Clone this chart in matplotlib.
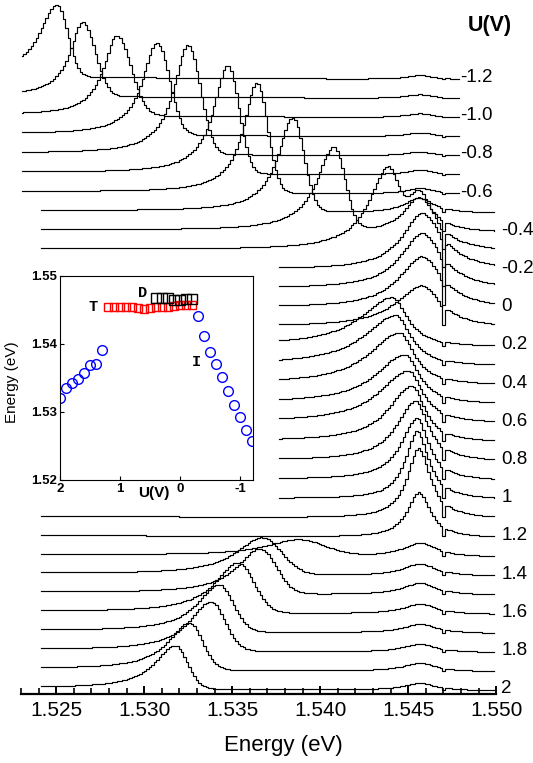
import numpy as np
import matplotlib
matplotlib.use('Agg')
import matplotlib.pyplot as plt
from matplotlib.ticker import MultipleLocator, FormatStrFormatter

plt.rcParams['font.family'] = ['Liberation Sans', 'DejaVu Sans']

# ---------------- data ----------------
# bias voltage of every spectrum (V), top to bottom
voltages = [-1.2, -1.1, -1.0, -0.9, -0.8, -0.7, -0.6, -0.5, -0.4, -0.3, -0.2, -0.1,
            0.0, 0.1, 0.2, 0.3, 0.4, 0.5, 0.6, 0.7, 0.8, 0.9, 1.0, 1.1, 1.2, 1.3,
            1.4, 1.5, 1.6, 1.7, 1.8, 1.9, 2.0]
voltage_labels = ['-1.2', '-1.0', '-0.8', '-0.6', '-0.4', '-0.2', '0', '0.2', '0.4',
                  '0.6', '0.8', '1', '1.2', '1.4', '1.6', '1.8', '2']

# recorded energy window of each spectrum (eV)
window_start = [1.52306] * 7 + [1.52413] * 3 + [1.53766] * 13 + [1.52413] * 10
window_end = [1.54789] * 7 + [1.5499] * 26

nan = np.nan
# I line (moves with bias): energy, height, left (Lorentz) / right (Gauss) width
I_energy = [1.52505, 1.52652, 1.52845, 1.53073, 1.53249, 1.53476, 1.53641, 1.53845,
            1.54078, 1.54380, nan, nan, nan, nan, nan, nan, nan, nan, nan, nan, nan,
            nan, nan, nan, nan, 1.53874, 1.53669, 1.53658, 1.53533, 1.53425, 1.53380,
            1.53255, 1.53175]
I_height = [72, 74, 80, 92, 109, 108, 110, 94, 83, 70, 0, 0, 0, 0, 0, 0, 0, 0, 0, 0,
            0, 0, 0, 0, 0, 16, 37, 45, 50, 47, 49, 47, 43]
I_wleft = [0.00125, 0.00090, 0.00093, 0.00100, 0.00100, 0.00100, 0.00095, 0.00105,
           0.00120, 0.00130, 1, 1, 1, 1, 1, 1, 1, 1, 1, 1, 1, 1, 1, 1, 1, 0.00220,
           0.00180, 0.00160, 0.00160, 0.00150, 0.00150, 0.00145, 0.00140]
I_wright = [0.00060, 0.00070, 0.00080, 0.00070, 0.00070, 0.00062, 0.00060, 0.00062,
            0.00062, 0.00062, 1, 1, 1, 1, 1, 1, 1, 1, 1, 1, 1, 1, 1, 1, 1, 0.00150,
            0.00110, 0.00090, 0.00090, 0.00080, 0.00080, 0.00075, 0.00070]

# T line (~1.5455 eV): energy, height, left / right Lorentz width
T_energy = [1.5457] * 7 + [1.5456, 1.5456, 1.5456, 1.5458, 1.5458, 1.5458, 1.5458,
            1.5441, 1.5443, 1.5445, 1.5448, 1.5450, 1.5452, 1.5454, 1.5455, 1.5455,
            1.5456, 1.5456] + [1.5457] * 8
T_height = [4, 4, 4, 4, 4, 5, 6, 15, 35, 60, 57, 56, 52, 42, 49, 50, 52, 49, 52, 56,
            60, 62, 68, 70, 45, 14, 12, 12, 10, 9, 8, 8, 7]
T_wleft = [0.0010] * 7 + [0.0010, 0.0010, 0.0010, 0.0014, 0.0015, 0.0016, 0.0018,
           0.0022, 0.0022, 0.0021, 0.0020, 0.0020, 0.0016, 0.0013, 0.0011, 0.0008,
           0.0008, 0.0008] + [0.0012] * 8
T_wright = [0.0009] * 7 + [0.0010, 0.0010, 0.0011, 0.0014, 0.0014, 0.0014, 0.0013,
            0.0010, 0.0010, 0.0010, 0.0010, 0.0010, 0.0009, 0.0009, 0.0008, 0.0008,
            0.0008, 0.0008] + [0.0011] * 8

# narrow spectral hole at the D line
dip_energy = 1.5470
dip_depth = 0.9
dip_width = 0.00006

# inset: peak energies versus bias
I_left_U = [2.0, 1.9, 1.8, 1.7, 1.6, 1.5, 1.4, 1.3]
I_left_E = [1.5320, 1.5335, 1.5342, 1.5348, 1.5358, 1.5369, 1.5371, 1.5391]
I_right_U = [-0.3, -0.4, -0.5, -0.6, -0.7, -0.8, -0.9, -1.0, -1.1, -1.2]
I_right_E = [1.5441, 1.5412, 1.5388, 1.5370, 1.5352, 1.5331, 1.5311, 1.5292,
             1.5274, 1.5258]
T_U = [1.2, 1.1, 1.0, 0.9, 0.8, 0.7, 0.6, 0.5, 0.4, 0.3, 0.2, 0.1, 0.0, -0.1, -0.2]
T_E = [1.5455, 1.5455, 1.5455, 1.5455, 1.5455, 1.5453, 1.5452, 1.5453, 1.5455,
       1.5455, 1.5455, 1.5456, 1.5457, 1.5457, 1.5457]
D_U = [0.4, 0.3, 0.2, 0.1, 0.0, -0.1, -0.2]
D_E = [1.5467, 1.5467, 1.5467, 1.5465, 1.5465, 1.5466, 1.5466]

# ---------------- figure ----------------
W, H = 533, 763
AX_LEFT, AX_RIGHT, AX_BOTTOM = 21.0, 496.2, 694.0
fig = plt.figure(figsize=(W / 100, H / 100), dpi=100)
ax = fig.add_axes([AX_LEFT / W, 1 - AX_BOTTOM / H, (AX_RIGHT - AX_LEFT) / W,
                   AX_BOTTOM / H])
ax.set_xlim(1.523, 1.550)
ax.set_ylim(0, AX_BOTTOM)
for s in ('left', 'right', 'top'):
    ax.spines[s].set_visible(False)
ax.spines['bottom'].set_linewidth(1.6)
ax.set_yticks([])
ax.xaxis.set_major_locator(MultipleLocator(0.005))
ax.xaxis.set_minor_locator(MultipleLocator(0.001))
ax.xaxis.set_major_formatter(FormatStrFormatter('%.3f'))
ax.tick_params(axis='x', which='major', direction='in', length=6, width=1.4,
               labelsize=15, pad=5)
ax.tick_params(axis='x', which='minor', direction='in', length=4, width=1.2)
ax.set_xlabel('Energy (eV)', fontsize=16)
ax.xaxis.set_label_coords((283 - AX_LEFT) / (AX_RIGHT - AX_LEFT),
                          -(745 - AX_BOTTOM) / AX_BOTTOM)
ax.xaxis.label.set_va('center')

STEP = 19.1
LABEL0 = AX_BOTTOM - 77.5      # level of the first label (in axis units)
GRID = 0.00014                 # sampling of the drawn staircase (eV)


def lorentz2(E, E0, h, wl, wr):
    w = np.where(E < E0, wl, wr)
    return h / (1 + ((E - E0) / w) ** 2)


def lorentz_gauss(E, E0, h, wl, wr):
    left = h / (1 + ((E - E0) / wl) ** 2)
    right = h * np.exp(-0.5 * ((E - E0) / wr) ** 2)
    return np.where(E < E0, left, right)


for i, U in enumerate(voltages):
    k0 = int(np.ceil((window_start[i] - dip_energy) / GRID))
    k1 = int(np.floor((window_end[i] - dip_energy) / GRID))
    E = dip_energy + np.arange(k0, k1 + 1) * GRID
    E = np.concatenate([[window_start[i]], E, [window_end[i]]])
    base = LABEL0 - i * STEP - 2
    y = base + 115 * (window_end[i] - E)
    if I_height[i] > 0:
        y = y + lorentz_gauss(E, I_energy[i], I_height[i], I_wleft[i], I_wright[i])
    tpeak = lorentz2(E, T_energy[i], T_height[i], T_wleft[i], T_wright[i])
    hole = 1 - dip_depth / (1 + ((E - dip_energy) / dip_width) ** 2)
    y = y + tpeak * hole
    ax.plot(E, y, color='black', lw=0.85, drawstyle='steps-mid', clip_on=False,
            zorder=2)

for j, lab in enumerate(voltage_labels):
    i = 2 * j
    gap = 0.00004 if i < 7 else 0.00038
    ax.text(window_end[i] + gap, LABEL0 - i * STEP, lab, fontsize=13.5,
            ha='left', va='center', clip_on=False)

fig.text(490 / W, 1 - 25.5 / H, 'U(V)', fontsize=15.5, fontweight='bold',
         ha='center', va='center')

# ---------------- inset ----------------
ins = fig.add_axes([60 / W, 1 - 480 / H, 193 / W, 204 / H])
ins.set_zorder(5)
ins.set_facecolor('white')
ins.set_xlim(2, -1.217)
ins.set_ylim(1.52, 1.55)
ins.set_xticks([2, 1, 0, -1])
ins.set_xticklabels(['2', '1', '0', '-1'])
ins.set_yticks([1.52, 1.53, 1.54, 1.55])
ins.set_yticklabels(['1.52', '1.53', '1.54', '1.55'])
ins.tick_params(direction='in', length=3, width=0.8, labelsize=9.5, pad=2)
for t in ins.get_xticklabels() + ins.get_yticklabels():
    t.set_fontweight('bold')
for s in ins.spines.values():
    s.set_linewidth(0.8)
ins.plot(I_left_U, I_left_E, 'o', ms=7, mfc='none', mec='#0000ff', mew=1.0)
ins.plot(I_right_U, I_right_E, 'o', ms=7, mfc='none', mec='#0000ff', mew=1.0)
ins.plot(T_U, T_E, 's', ms=6, mfc='none', mec='#ff0000', mew=1.0)
ins.plot(D_U, D_E, 's', ms=6.5, mfc='none', mec='black', mew=1.0)
mono = ['Liberation Mono', 'DejaVu Sans Mono']
ins.text(1.45, 1.5454, 'T', family=mono, fontweight='bold', fontsize=11,
         ha='center', va='center')
ins.text(0.63, 1.5475, 'D', family=mono, fontweight='bold', fontsize=11,
         ha='center', va='center')
ins.text(-0.28, 1.5373, 'I', family=mono, fontweight='bold', fontsize=11,
         ha='center', va='center')
ins.set_ylabel('Energy (eV)', fontsize=11)
ins.yaxis.set_label_coords(-(60 - 18.7) / 193, (480 - 382) / 204)
ins.set_xlabel('U(V)', fontsize=11, fontweight='bold')
ins.xaxis.set_label_coords((154 - 60) / 193, -(493 - 480) / 204)
ins.xaxis.label.set_va('center')

fig.savefig('out.png', dpi=100)
